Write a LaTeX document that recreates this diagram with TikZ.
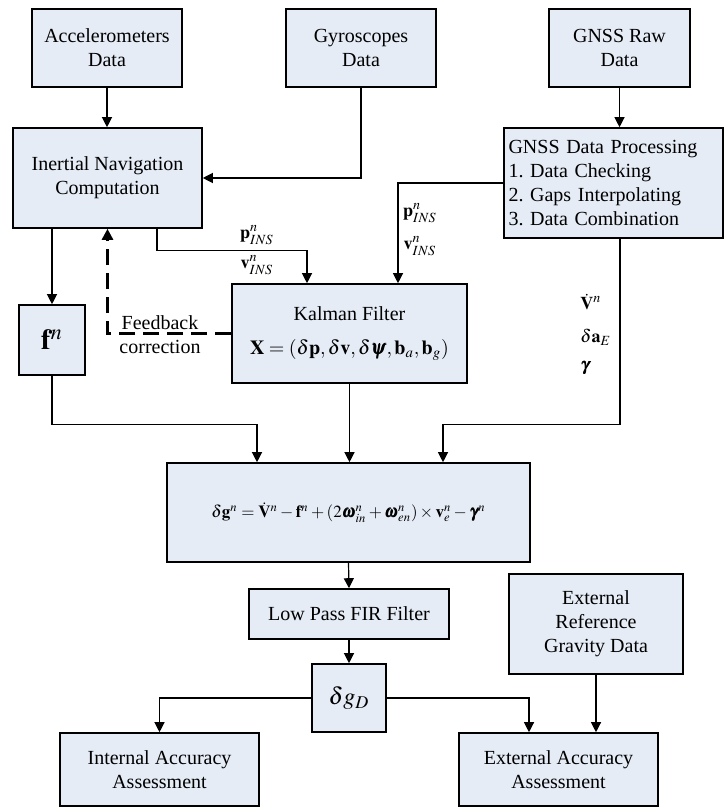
\documentclass[tikz,border=0pt]{standalone}
\usepackage{amsmath}
\usepackage{mathptmx}
\usepackage{bm}
\usepackage{fontspec}
\setmainfont{Liberation Serif}
\usetikzlibrary{arrows.meta,positioning,calc}
\definecolor{boxblue}{RGB}{229,236,246}

\begin{document}
\begin{tikzpicture}[
    x=0.5pt, y=-0.5pt,
    font=\rmfamily\fontsize{10}{12}\selectfont,
    box/.style={rectangle, draw=black, line width=0.8pt, fill=boxblue, align=center, inner sep=2pt},
    flow/.style={-{Triangle[length=5pt,width=5pt]}, line width=0.6pt},
    feedback/.style={-{Triangle[length=5.5pt,width=5.5pt]}, line width=1.3pt, dash pattern=on 8pt off 4pt},
    lbl/.style={inner sep=0pt, font=\rmfamily\fontsize{9}{10}\selectfont}
]
\useasboundingbox (0,0) rectangle (724,807);

% Sensor data
\node[box, minimum width=75pt, minimum height=39pt] (acc) at (107,48) {Accelerometers\\Data};
\node[box, minimum width=75pt, minimum height=39pt] (gyro) at (361,48) {Gyroscopes\\Data};
\node[box, minimum width=70.5pt, minimum height=39pt] (gnssraw) at (619.5,48) {GNSS Raw\\Data};

% INS and GNSS processing
\node[box, minimum width=94.5pt, minimum height=50pt] (ins) at (107.5,178) {Inertial Navigation\\Computation};
\node[box, minimum width=109.5pt, minimum height=55pt, align=left, text width=105pt] (gnssproc) at (613.5,183) {GNSS Data Processing\\1.\ Data Checking\\2.\ Gaps Interpolating\\3.\ Data Combination};

% Specific force and Kalman filter
\node[box, minimum width=33pt, minimum height=35pt, font=\rmfamily\Large] (fn) at (52,340) {$\mathbf{f}^{n}$};
\node[box, minimum width=117.5pt, minimum height=49.5pt] (kalman) at (349.5,333.5) {Kalman Filter\\[5pt]$\mathbf{X}=(\delta\mathbf{p},\delta\mathbf{v},\delta\bm{\psi},\mathbf{b}_{a},\mathbf{b}_{g})$};

% Gravity disturbance
\node[box, minimum width=181.5pt, minimum height=49.5pt, font=\rmfamily\fontsize{8.5}{10}\selectfont] (eq) at (348.5,512.5) {$\delta\mathbf{g}^{n}=\dot{\mathbf{V}}^{n}-\mathbf{f}^{n}+(2\bm{\omega}^{n}_{in}+\bm{\omega}^{n}_{en})\times\mathbf{v}^{n}_{e}-\bm{\gamma}^{n}$};
\node[box, minimum width=100pt, minimum height=25pt] (lpf) at (349,614) {Low Pass FIR Filter};
\node[box, minimum width=37pt, minimum height=34pt, font=\rmfamily\large] (dgd) at (349,698) {$\delta g_{D}$};
\node[box, minimum width=87pt, minimum height=50pt] (extref) at (596,624) {External\\Reference\\Gravity Data};

% Assessment
\node[box, minimum width=99.5pt, minimum height=36.5pt] (intacc) at (159.5,769.5) {Internal Accuracy\\Assessment};
\node[box, minimum width=99.5pt, minimum height=36.5pt] (extacc) at (558.5,769.5) {External Accuracy\\Assessment};

% Arrows
\draw[flow] (acc.south) -- (acc.south |- ins.north);
\draw[flow] (gyro.south) |- (ins.east);
\draw[flow] (gnssraw.south) -- (gnssraw.south |- gnssproc.north);
\draw[flow] ($(ins.south)+(49.5,0)$) -- ++(0,22) -| ($(kalman.north)+(-42.5,0)$);
\draw[flow] (gnssproc.west) -| ($(kalman.north)+(48.5,0)$);
\draw[flow] (ins.south -| fn.north) -- (fn.north);
\draw[flow] (fn.south) -- ++(0,49) -| ($(eq.north)+(-91.5,0)$);
\draw[flow] (kalman.south) -- (kalman.south |- eq.north);
\draw[flow] ($(gnssproc.south)+(6.5,0)$) -- ++(0,186) -| ($(eq.north)+(94.5,0)$);
\draw[flow] (eq.south) -- (lpf.north);
\draw[flow] (lpf.south) -- (dgd.north);
\draw[flow] (dgd.west) -| (intacc.north);
\draw[flow] (dgd.east) -| ($(extacc.north)+(-29.5,0)$);
\draw[flow] (extref.south) -- (extref.south |- extacc.north);

% Feedback correction
\draw[feedback] (kalman.west) -| (ins.south);
\node[align=center, inner sep=0pt] (fbtext) at (160,335) {Feedback\\correction};

% Labels
\node[lbl] (pins1) at (257,235) {$\mathbf{p}^{n}_{INS}$};
\node[lbl] (vins1) at (257,265) {$\mathbf{v}^{n}_{INS}$};
\node[lbl] (pins2) at (420,213) {$\mathbf{p}^{n}_{INS}$};
\node[lbl] (vins2) at (420,246) {$\mathbf{v}^{n}_{INS}$};
\node[lbl, anchor=west] (vdot) at (580,302) {$\dot{\mathbf{V}}^{n}$};
\node[lbl, anchor=west] (dae) at (580,337) {$\delta\mathbf{a}_{E}$};
\node[lbl, anchor=west] (gam) at (580,368) {$\bm{\gamma}$};

\end{tikzpicture}
\end{document}
